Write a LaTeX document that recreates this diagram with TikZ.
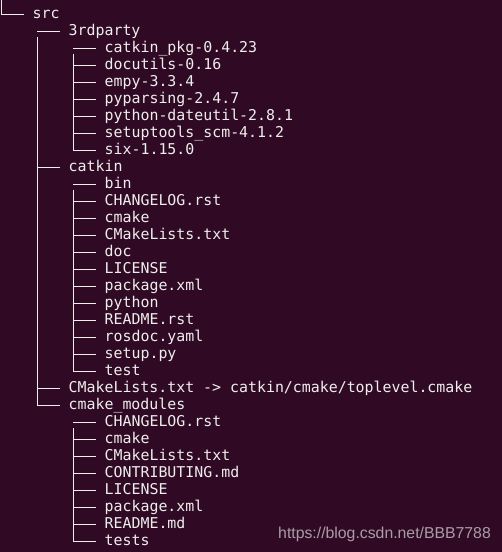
\documentclass[tikz,border=0pt]{standalone}
\usepackage{fontspec}
\newfontfamily\termfont{DejaVu Sans Mono}
\newfontfamily\wmfont{Liberation Sans}
\definecolor{termbg}{HTML}{300A24}
\definecolor{termfg}{HTML}{EEEEEC}
\definecolor{wmgray}{HTML}{A99CA6}
\tikzset{
  txt/.style={anchor=base west, inner sep=0pt, text=termfg, font=\termfont\fontsize{14.9}{17}\selectfont},
  tree/.style={draw=termfg, line width=1pt},
}
% level, row, name, text
\newcommand\treeentry[4]{%
  \node[txt] (#3) at ({32.5+36*#1}, {14+17*#2+4.5}) {#4};
  \coordinate (#3-h) at ({32.5+36*#1-9}, {14+17*#2});
  \coordinate (#3-v) at ({37+36*(#1-1)}, {14+17*#2});
  \draw[tree] (#3-v) -- (#3-h);
}
\begin{document}
\begin{tikzpicture}[x=1pt,y=-1pt]
\fill[termbg] (0,0) rectangle (502,552);
\useasboundingbox (0,0) rectangle (502,552);
\treeentry{0}{0}{src}{src}
\treeentry{1}{1}{third}{3rdparty}
\treeentry{2}{2}{a1}{catkin\_pkg-0.4.23}
\treeentry{2}{3}{a2}{docutils-0.16}
\treeentry{2}{4}{a3}{empy-3.3.4}
\treeentry{2}{5}{a4}{pyparsing-2.4.7}
\treeentry{2}{6}{a5}{python-dateutil-2.8.1}
\treeentry{2}{7}{a6}{setuptools\_scm-4.1.2}
\treeentry{2}{8}{a7}{six-1.15.0}
\treeentry{1}{9}{catkin}{catkin}
\treeentry{2}{10}{b1}{bin}
\treeentry{2}{11}{b2}{CHANGELOG.rst}
\treeentry{2}{12}{b3}{cmake}
\treeentry{2}{13}{b4}{CMakeLists.txt}
\treeentry{2}{14}{b5}{doc}
\treeentry{2}{15}{b6}{LICENSE}
\treeentry{2}{16}{b7}{package.xml}
\treeentry{2}{17}{b8}{python}
\treeentry{2}{18}{b9}{README.rst}
\treeentry{2}{19}{b10}{rosdoc.yaml}
\treeentry{2}{20}{b11}{setup.py}
\treeentry{2}{21}{b12}{test}
\treeentry{1}{22}{cml}{CMakeLists.txt -> catkin/cmake/toplevel.cmake}
\treeentry{1}{23}{cmod}{cmake\_modules}
\treeentry{2}{24}{c1}{CHANGELOG.rst}
\treeentry{2}{25}{c2}{cmake}
\treeentry{2}{26}{c3}{CMakeLists.txt}
\treeentry{2}{27}{c4}{CONTRIBUTING.md}
\treeentry{2}{28}{c5}{LICENSE}
\treeentry{2}{29}{c6}{package.xml}
\treeentry{2}{30}{c7}{README.md}
\treeentry{2}{31}{c8}{tests}
% vertical trunks
\coordinate (top) at (1,0);
\draw[tree] (top) -- (src-v);
\draw[tree] ([yshift=-6pt]third-v) -- (cmod-v);
\draw[tree] ([yshift=-6pt]a1-v) -- (a7-v);
\draw[tree] ([yshift=-6pt]b1-v) -- (b12-v);
\draw[tree] ([yshift=-6pt]c1-v) -- (c8-v);
\node[anchor=base east, inner sep=0pt, text=wmgray, font=\wmfont\fontsize{15.8}{18}\selectfont] (wm) at (491,538) {https://blog.csdn.net/BBB7788};
\end{tikzpicture}
\end{document}
